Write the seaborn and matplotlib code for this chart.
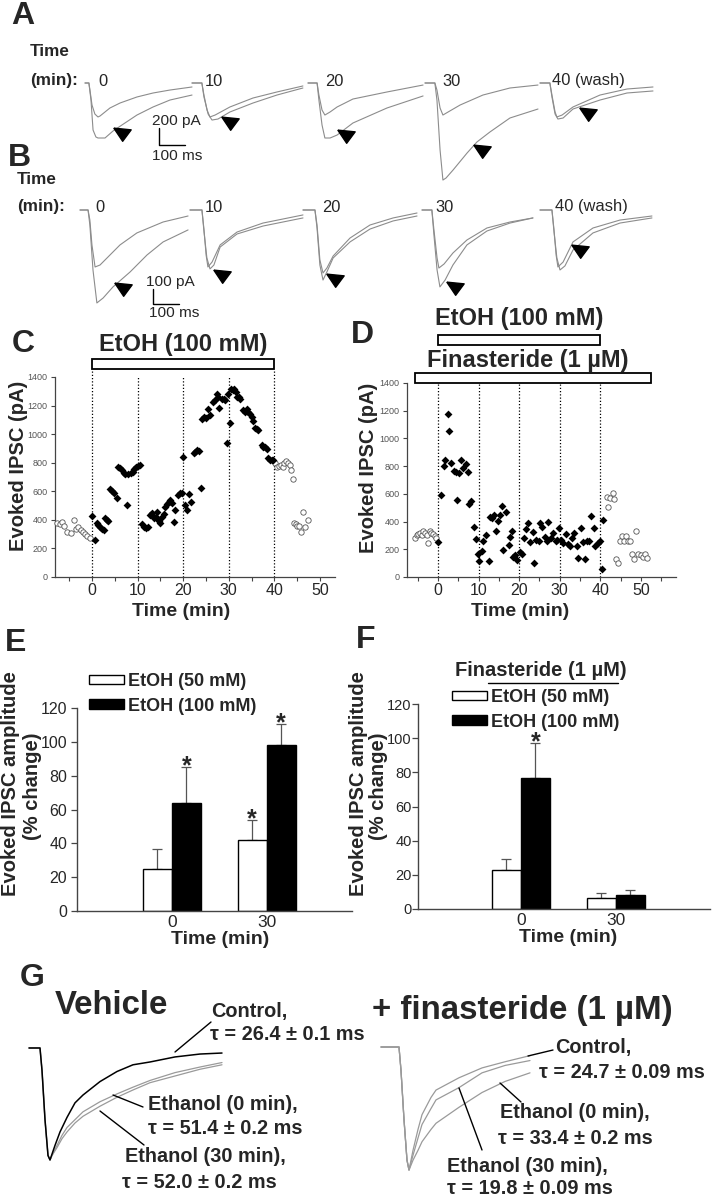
import numpy as np
import pandas as pd
import matplotlib
matplotlib.use("Agg")
import matplotlib.pyplot as plt
import seaborn as sns
from matplotlib import font_manager
from matplotlib.patches import Rectangle, Patch
from matplotlib.lines import Line2D

# ======================= DATA =======================
# Panels A / B : example traces, time (ms from sweep start) and current (pA)
SWEEP_LABELS = ["0", "10", "20", "30", "40 (wash)"]

A_T_CTRL = [[0, 15, 19, 27, 38, 50, 58, 77, 96, 135, 200, 262, 327, 412],
            [0, 38, 46, 58, 69, 89, 146, 235, 327, 427],
            [0, 35, 42, 54, 65, 85, 112, 173, 304, 443],
            [0, 38, 46, 58, 69, 89, 135, 223, 327, 435],
            [0, 38, 46, 58, 65, 85, 127, 231, 335, 435]]
A_I_CTRL = [[0, 0, -83, -260, -366, -401, -389, -342, -295, -236, -165, -118, -83, -47],
            [0, 0, -142, -319, -401, -378, -283, -177, -106, -35],
            [0, 0, -142, -319, -378, -342, -283, -189, -106, -24],
            [0, 0, -83, -295, -378, -342, -260, -142, -59, -24],
            [0, 0, -142, -342, -401, -378, -283, -142, -71, -47]]
A_T_ETOH = [[0, 15, 23, 31, 42, 50, 77, 108, 142, 200, 262, 327, 412],
            [0, 38, 46, 62, 77, 100, 146, 235, 327, 427],
            [0, 35, 42, 54, 65, 85, 112, 173, 304, 443],
            [0, 38, 46, 58, 69, 81, 108, 162, 200, 250, 327, 435],
            [0, 38, 46, 58, 69, 89, 127, 231, 335, 435]]
A_I_ETOH = [[0, 0, -201, -555, -637, -649, -649, -566, -496, -378, -283, -201, -142],
            [0, 0, -165, -366, -437, -425, -342, -236, -142, -59],
            [0, 0, -201, -496, -649, -649, -614, -472, -295, -153],
            [0, 0, -201, -791, -1145, -1121, -1027, -826, -696, -578, -413, -307],
            [0, 0, -165, -366, -425, -413, -307, -201, -118, -94]]
A_ARROW_T = [142, 146, 146, 219, 185]
A_ARROW_I = [-590, -460, -614, -791, -354]
A_SCALE_PA, A_SCALE_MS = 200, 100

B_T_CTRL = [[0, 31, 38, 46, 58, 77, 104, 154, 219, 320, 416],
            [0, 46, 54, 62, 69, 85, 116, 181, 281, 435],
            [0, 46, 54, 65, 77, 92, 116, 181, 258, 347, 439],
            [0, 38, 46, 58, 65, 85, 119, 173, 250, 339, 427],
            [0, 46, 54, 62, 69, 89, 127, 204, 308, 431]]
B_I_CTRL = [[0, 0, -67, -233, -380, -367, -320, -233, -153, -80, -40],
            [0, 0, -133, -300, -380, -347, -233, -147, -87, -33],
            [0, 0, -100, -333, -420, -387, -307, -187, -100, -53, -20],
            [0, 0, -133, -320, -387, -360, -287, -200, -120, -80, -53],
            [0, 0, -133, -300, -380, -347, -213, -120, -67, -40]]
B_T_ETOH = [[0, 31, 38, 50, 65, 89, 127, 193, 258, 320, 416],
            [0, 46, 54, 65, 77, 92, 116, 181, 281, 435],
            [0, 46, 54, 65, 77, 92, 116, 181, 258, 347, 439],
            [0, 38, 46, 58, 69, 89, 119, 173, 250, 339, 427],
            [0, 46, 54, 65, 77, 96, 127, 204, 308, 431]]
B_I_ETOH = [[0, 0, -100, -400, -620, -587, -513, -413, -300, -213, -133],
            [0, 0, -147, -320, -393, -367, -247, -160, -107, -53],
            [0, 0, -120, -367, -467, -413, -320, -213, -127, -73, -40],
            [0, 0, -167, -400, -513, -467, -367, -233, -140, -87, -53],
            [0, 0, -147, -320, -400, -373, -267, -153, -87, -53]]
B_ARROW_T = [166, 123, 123, 127, 154]
B_ARROW_I = [-520, -433, -460, -513, -267]
B_SCALE_PA, B_SCALE_MS = 100, 100

# Panel C : evoked IPSC (pA) vs time (min)
C_PRE_T = [-7.6, -7.1, -6.6, -6.1, -5.4, -4.6, -4.0, -3.5, -3.0, -2.5, -2.0, -1.5, -1.0, -0.5]
C_PRE_I = [377, 370, 384, 360, 312, 310, 400, 335, 350, 330, 315, 300, 290, 275]
C_ETOH_T = [0.0, 0.6, 1.1, 1.4, 1.8, 2.2, 2.6, 2.9, 3.3, 3.6, 4.0, 4.4, 4.8, 5.5, 5.8, 6.2,
            6.6, 7.0, 7.3, 7.6, 8.0, 8.5, 8.9, 9.3, 9.7, 10.1, 10.5, 11.0, 11.4, 11.9, 12.3,
            12.8, 13.2, 13.6, 14.0, 14.3, 14.6, 15.0, 15.3, 15.7, 16.0, 16.4, 16.8, 17.1,
            17.5, 17.9, 18.3, 18.9, 19.3, 19.7, 20.0, 20.3, 20.8, 21.3, 21.7, 22.3, 22.7,
            23.1, 23.4, 24.0, 24.2, 24.6, 25.0, 25.5, 25.9, 26.6, 27.0, 27.4, 27.7, 27.9,
            28.5, 28.9, 29.2, 29.6, 29.9, 30.3, 30.6, 30.9, 31.2, 31.5, 31.8, 32.2, 32.5,
            33.2, 33.6, 33.9, 34.3, 34.7, 35.1, 35.4, 35.8, 36.2, 36.5, 37.2, 37.6, 37.9,
            38.3, 38.7, 39.1, 39.5, 39.8]
C_ETOH_I = [430, 260, 380, 365, 353, 337, 330, 410, 400, 393, 614, 605, 586, 550, 772, 760,
            749, 730, 721, 505, 721, 726, 737, 753, 767, 777, 786, 370, 353, 342, 353,
            435, 451, 412, 423, 458, 395, 381, 423, 442, 493, 512, 528, 540,
            516, 388, 470, 574, 586, 591, 842, 505, 470, 579, 528, 865, 877,
            888, 884, 621, 1109, 1121, 1116, 1179, 1133, 1226, 1237, 1284, 1260, 1186,
            1249, 1249, 1237, 940, 1284, 1079, 1319, 1307, 1319, 1295, 1260, 1260, 1249,
            1167, 1156, 1179, 1156, 1144, 1121, 1093, 1040, 1033, 1028, 923, 912, 907,
            895, 830, 819, 819, 819]
C_WASH_T = [40.2, 40.6, 41.0, 41.4, 41.8, 42.2, 42.6, 43.0, 43.4, 43.7, 44.1,
            44.3, 44.7, 45.0, 45.5, 45.8, 46.3, 46.8, 47.4]
C_WASH_I = [795, 772, 777, 784, 772, 800, 814, 800, 784, 749, 684,
            377, 370, 360, 360, 312, 458, 350, 400]
C_MARKS = [0, 10, 20, 30, 40]
C_ETOH_ON, C_ETOH_OFF = 0, 40

# Panel D
D_PRE_T = [-5.6, -5.2, -4.8, -4.4, -4.0, -3.6, -3.2, -2.8, -2.4, -2.0, -1.6, -1.2, -0.8, -0.4]
D_PRE_I = [281, 300, 310, 317, 305, 329, 320, 300, 245, 329, 315, 310, 293, 280]
D_ETOH_T = [0.15, 0.7, 1.4, 1.8, 2.4, 2.8, 3.3, 3.9, 4.4, 4.8, 5.3, 5.7, 6.3, 6.9, 7.3, 7.7,
            8.2, 8.8, 9.3, 9.8, 10.2, 10.8, 11.2, 11.8, 12.5, 12.9, 13.3, 13.9, 14.3, 14.7,
            15.2, 15.7, 16.1, 16.7, 17.4, 17.8, 18.2, 18.6, 19.0, 19.4, 20.1, 20.7, 21.1,
            21.7, 22.1, 22.7, 23.3, 23.7, 24.2, 24.8, 25.2, 25.7, 26.4, 26.8, 27.2, 27.9,
            28.4, 29.0, 29.4, 29.9, 30.3, 30.9, 31.5, 31.9, 32.5, 33.1, 33.5, 34.2, 34.6,
            35.2, 35.7, 36.1, 36.6, 37.2, 37.7, 38.3, 38.7, 39.3, 39.8, 40.3, 40.7]
D_ETOH_I = [253, 594, 803, 842, 1178, 1051, 822, 762, 755, 558, 750, 846, 786, 817, 755, 527,
            546, 358, 277, 166, 113, 190, 257, 305, 113, 430, 425, 450, 334, 406,
            445, 510, 197, 467, 233, 289, 334, 142, 156, 125, 180, 168, 281,
            349, 390, 250, 325, 101, 265, 257, 390, 358, 289, 257, 395, 281,
            317, 257, 265, 353, 265, 245, 313, 241, 226, 281, 317, 221, 137,
            353, 253, 130, 262, 262, 438, 353, 226, 245, 262, 58, 414]
D_WASH_T = [41.6, 41.8, 42.4, 43.0, 43.4, 43.9, 44.4, 44.7, 45.2, 45.8, 46.2, 46.7, 47.3,
            47.7, 48.3, 48.8, 49.3, 49.9, 50.6, 51.0, 51.4]
D_WASH_I = [577, 503, 570, 606, 565, 130, 101, 257, 293, 257, 293, 257, 257,
            168, 130, 329, 168, 156, 142, 168, 137]
D_MARKS = [0, 10, 20, 30, 40]
D_ETOH_ON, D_ETOH_OFF = 0, 40
D_FIN_ON, D_FIN_OFF = -5.6, 52.4

# Panels E / F : % change of evoked IPSC amplitude (mean, SEM)
BAR_TIMES = ["0", "30"]
CONC_LABELS = ["EtOH (50 mM)", "EtOH (100 mM)"]
E_50_MEAN, E_50_SEM, E_50_SIG = [25, 42], [11.5, 12], [False, True]
E_100_MEAN, E_100_SEM, E_100_SIG = [64, 98], [21, 12.5], [True, True]
F_50_MEAN, F_50_SEM, F_50_SIG = [23, 6.7], [6.5, 2.9], [False, False]
F_100_MEAN, F_100_SEM, F_100_SIG = [76.5, 8.4], [20.7, 2.6], [True, False]

# Panel G : normalised average IPSCs (time in ms, amplitude / peak)
G_VEH_T = [0, 22, 26, 32, 38, 42, 52, 62, 76, 92, 108, 142, 176, 208, 242, 292, 342, 386]
G_VEH_CTRL = [0, 0, -0.2, -0.64, -0.96, -1.0, -0.87, -0.75, -0.62, -0.49, -0.42, -0.30,
              -0.21, -0.15, -0.125, -0.08, -0.054, -0.045]
G_VEH_T2 = [0, 22, 26, 32, 38, 42, 46, 56, 66, 76, 92, 108, 142, 176, 208, 242, 292, 342, 386]
G_VEH_E0 = [0, 0, -0.2, -0.64, -0.96, -1.0, -0.96, -0.87, -0.78, -0.71, -0.64, -0.57, -0.48,
            -0.41, -0.35, -0.29, -0.22, -0.17, -0.13]
G_VEH_E30 = [0, 0, -0.2, -0.64, -0.96, -1.0, -0.96, -0.89, -0.81, -0.75, -0.67, -0.61, -0.52,
             -0.44, -0.375, -0.31, -0.25, -0.19, -0.15]
G_FIN_T = [0, 36, 40, 46, 52, 56, 64, 74, 82, 100, 110, 156, 202, 248, 298]
G_FIN_CTRL = [0, 0, -0.19, -0.59, -0.92, -1.0, -0.84, -0.67, -0.55, -0.41, -0.35, -0.25,
              -0.17, -0.12, -0.07]
G_FIN_E30 = [0, 0, -0.19, -0.59, -0.92, -1.0, -0.88, -0.74, -0.63, -0.50, -0.43, -0.33,
             -0.21, -0.15, -0.11]
G_FIN_E0 = [0, 0, -0.19, -0.59, -0.92, -1.0, -0.92, -0.84, -0.77, -0.67, -0.62, -0.49,
            -0.37, -0.28, -0.21]
G_VEH_TAU = ["26.4 ± 0.1", "51.4 ± 0.2", "52.0 ± 0.2"]
G_FIN_TAU = ["24.7 ± 0.09", "33.4 ± 0.2", "19.8 ± 0.09"]

# ======================= STYLE / HELPERS =======================
sns.set_theme(style="ticks")
SANS = ["Liberation Sans", "DejaVu Sans"]
plt.rcParams["font.family"] = SANS
plt.rcParams["axes.unicode_minus"] = False

_names = {f.name for f in font_manager.fontManager.ttflist}
HAS_NARROW = "Liberation Sans Narrow" in _names
NARROW = (["Liberation Sans Narrow"] + SANS) if HAS_NARROW else SANS
NK = 1.0 if HAS_NARROW else 0.82

W, H = 718, 1200
fig = plt.figure(figsize=(W / 100, H / 100), dpi=100)
fig.patch.set_facecolor("white")


def add_ax(x0, y0, x1, y1):
    return fig.add_axes([x0 / W, 1 - y1 / H, (x1 - x0) / W, (y1 - y0) / H])


def ftext(x, y, s, size, bold=False, ha="left", va="center", family=None, rot=0, **kw):
    return fig.text(x / W, 1 - y / H, s, fontsize=size,
                    fontweight="bold" if bold else "normal", ha=ha, va=va,
                    family=family if family is not None else SANS, rotation=rot, **kw)


def fline(pts, **kw):
    xs = [p[0] / W for p in pts]
    ys = [1 - p[1] / H for p in pts]
    fig.add_artist(Line2D(xs, ys, transform=fig.transFigure, **kw))


TRACE_GRAY = "#8c8c8c"
ARROW = [(-1.0, 0.62), (1.0, 0.42), (0.02, -0.9), (-1.0, 0.62)]
MS_PX = 3.85
LETTER = 23


def sweeps(starts, top, bot, base, pa_px, Tc, Ic, Te, Ie, at, ai):
    out = []
    for i, x0 in enumerate(starts):
        ax = add_ax(x0 - 4, top, x0 + 124, bot)
        ax.set_xlim(-4 * MS_PX, 124 * MS_PX)
        ax.set_ylim(-(bot - base) * pa_px, (base - top) * pa_px)
        ax.axis("off")
        sns.lineplot(x=Tc[i], y=Ic[i], ax=ax, color=TRACE_GRAY, lw=0.8, sort=False, estimator=None)
        sns.lineplot(x=Te[i], y=Ie[i], ax=ax, color=TRACE_GRAY, lw=0.8, sort=False, estimator=None)
        ax.plot([at[i]], [ai[i]], ls="none", marker=ARROW, ms=12.5, color="black",
                mec="black", clip_on=False)
        out.append(ax)
    return out


# ======================= PANEL A =======================
ftext(11, 16, "A", LETTER, bold=True)
ftext(30, 52, "Time", 15 * NK, bold=True, family=NARROW)
ftext(30, 80, "(min):", 15 * NK, bold=True, family=NARROW)
axA = sweeps([85, 192, 308, 425, 540], 72, 192, 83, 11.8,
             A_T_CTRL, A_I_CTRL, A_T_ETOH, A_I_ETOH, A_ARROW_T, A_ARROW_I)
for x, lab in zip([98, 205, 325, 442, 552], SWEEP_LABELS):
    ftext(x, 81, lab, 14.5 * NK, family=NARROW)
x0s, y0s = 285, -531
axA[0].plot([x0s, x0s, x0s + A_SCALE_MS], [y0s, y0s - A_SCALE_PA, y0s - A_SCALE_PA],
            color="black", lw=1.0, clip_on=False)
ftext(152, 121, f"{A_SCALE_PA} pA", 13.5 * NK, family=NARROW)
ftext(152, 156, f"{A_SCALE_MS} ms", 13.5 * NK, family=NARROW)

# ======================= PANEL B =======================
ftext(8, 158, "B", LETTER, bold=True)
ftext(17, 180, "Time", 15 * NK, bold=True, family=NARROW)
ftext(17, 207, "(min):", 15 * NK, bold=True, family=NARROW)
axB = sweeps([80, 190, 303, 422, 540], 198, 318, 210, 6.67,
             B_T_CTRL, B_I_CTRL, B_T_ETOH, B_I_ETOH, B_ARROW_T, B_ARROW_I)
for x, lab in zip([95, 205, 322, 435, 555], SWEEP_LABELS):
    ftext(x, 207, lab, 14.5 * NK, family=NARROW)
x0s, y0s = 281, -527
axB[0].plot([x0s, x0s, x0s + B_SCALE_MS], [y0s, y0s - B_SCALE_PA, y0s - B_SCALE_PA],
            color="black", lw=1.0, clip_on=False)
ftext(146, 282, f"{B_SCALE_PA} pA", 13.5 * NK, family=NARROW)
ftext(149, 313, f"{B_SCALE_MS} ms", 13.5 * NK, family=NARROW)


# ======================= PANELS C / D =======================
def style_time_ax(ax, xlim, xmax_tick):
    ax.set_xlim(*xlim)
    ax.set_ylim(0, 1400)
    ticks = list(range(-5, xmax_tick + 1, 5))
    ax.set_xticks(ticks)
    ax.set_xticklabels([str(t) if (t % 10 == 0 and t >= 0) else "" for t in ticks], fontsize=11.5)
    yt = list(range(0, 1401, 200))
    ax.set_yticks(yt)
    ax.set_yticklabels([str(v) for v in yt], fontsize=6.5, color="#555555")
    ax.tick_params(axis="both", direction="out", length=3, width=0.8, color="#444444")
    ax.tick_params(axis="x", pad=1)
    ax.tick_params(axis="y", pad=2.5)
    sns.despine(ax=ax)
    for s in ["left", "bottom"]:
        ax.spines[s].set_color("#444444")
        ax.spines[s].set_linewidth(0.9)
    ax.set_xlabel("")
    ax.set_ylabel("")
    ax.patch.set_alpha(0)


def scatter_series(ax, pre_t, pre_i, on_t, on_i, post_t, post_i):
    sns.scatterplot(x=pre_t + post_t, y=pre_i + post_i, ax=ax, marker="o", s=15,
                    color="white", edgecolor="#555555", linewidth=0.6, clip_on=False, zorder=3)
    sns.scatterplot(x=on_t, y=on_i, ax=ax, marker="D", s=16, color="black",
                    linewidth=0, clip_on=False, zorder=3)


axC = add_ax(55, 377, 335, 577)
scatter_series(axC, C_PRE_T, C_PRE_I, C_ETOH_T, C_ETOH_I, C_WASH_T, C_WASH_I)
style_time_ax(axC, (-8.1, 53.3), 50)
for t in C_MARKS:
    top = 1456 if t in (C_ETOH_ON, C_ETOH_OFF) else 1400
    axC.plot([t, t], [0, top], ls=(0, (1, 1.6)), color="black", lw=0.9, clip_on=False, zorder=1)
axC.add_patch(Rectangle((C_ETOH_ON, 1456), C_ETOH_OFF - C_ETOH_ON, 70, facecolor="white",
                        edgecolor="black", lw=1.3, clip_on=False))
axC.text((C_ETOH_ON + C_ETOH_OFF) / 2, 1624, "EtOH (100 mM)", ha="center", va="center",
         fontsize=17, fontweight="bold")
ftext(12, 344, "C", LETTER, bold=True)
ftext(19, 466, "Evoked IPSC (pA)", 14.5, bold=True, ha="center", rot=90)
ftext(181, 611, "Time (min)", 14, bold=True, ha="center")

axD = add_ax(407, 383, 676, 577)
scatter_series(axD, D_PRE_T, D_PRE_I, D_ETOH_T, D_ETOH_I, D_WASH_T, D_WASH_I)
style_time_ax(axD, (-7.6, 58.6), 55)
for t in D_MARKS:
    axD.plot([t, t], [0, 1400], ls=(0, (1, 1.6)), color="black", lw=0.9, clip_on=False, zorder=1)
axD.add_patch(Rectangle((D_ETOH_ON, 1674), D_ETOH_OFF - D_ETOH_ON, 72, facecolor="white",
                        edgecolor="black", lw=1.3, clip_on=False))
axD.add_patch(Rectangle((D_FIN_ON, 1400), D_FIN_OFF - D_FIN_ON, 72, facecolor="white",
                        edgecolor="black", lw=1.3, clip_on=False))
axD.text((D_ETOH_ON + D_ETOH_OFF) / 2, 1869, "EtOH (100 mM)", ha="center", va="center",
         fontsize=17, fontweight="bold")
axD.text(22.2, 1565, "Finasteride (1 µM)", ha="center", va="center",
         fontsize=17, fontweight="bold")
ftext(351, 335, "D", LETTER, bold=True)
ftext(368, 468, "Evoked IPSC (pA)", 14.5, bold=True, ha="center", rot=90)
ftext(520, 611, "Time (min)", 14, bold=True, ha="center")


# ======================= PANELS E / F =======================
def bar_panel(ax, m50, s50, g50, m100, s100, g100, xlim, ypad, ysize):
    pos = [i + 1 for i in range(len(BAR_TIMES))]
    df = pd.DataFrame({"pos": pos + pos,
                       "conc": [CONC_LABELS[0]] * len(pos) + [CONC_LABELS[1]] * len(pos),
                       "val": list(m50) + list(m100)})
    sns.barplot(data=df, x="pos", y="val", hue="conc", hue_order=CONC_LABELS,
                palette={CONC_LABELS[0]: "white", CONC_LABELS[1]: "black"},
                native_scale=True, width=0.61, errorbar=None, edgecolor="black",
                linewidth=1.0, legend=False, ax=ax, zorder=2)
    bars = sorted(ax.patches, key=lambda p: p.get_x())
    means, sems, sigs = [], [], []
    for i in range(len(pos)):
        means += [m50[i], m100[i]]
        sems += [s50[i], s100[i]]
        sigs += [g50[i], g100[i]]
    xs = [p.get_x() + p.get_width() / 2 for p in bars]
    ax.errorbar(xs, means, yerr=[np.zeros(len(sems)), sems], fmt="none", ecolor="#555555",
                elinewidth=0.9, capsize=3.5, capthick=0.9, zorder=1)
    for x, m, s, g in zip(xs, means, sems, sigs):
        if g:
            ax.text(x, m + s + 0.3, "*", ha="center", va="center", fontsize=18,
                    fontweight="bold")
    ax.set_xlim(*xlim)
    ax.set_ylim(0, 120)
    ax.set_yticks(range(0, 121, 20))
    ax.set_yticklabels([str(v) for v in range(0, 121, 20)], fontsize=ysize)
    ax.set_xticks(pos)
    ax.set_xticklabels(BAR_TIMES, fontsize=12.5)
    ax.tick_params(axis="x", length=0, pad=3)
    ax.tick_params(axis="y", length=4, width=0.9, direction="out", pad=ypad, color="#444444")
    ax.set_xlabel("")
    ax.set_ylabel("")
    sns.despine(ax=ax)
    for s in ["left", "bottom"]:
        ax.spines[s].set_color("#444444")
        ax.spines[s].set_linewidth(1.0)
    ax.patch.set_alpha(0)


def bar_legend(ax, x, y):
    handles = [Patch(facecolor="white", edgecolor="black", lw=1.0, label=CONC_LABELS[0]),
               Patch(facecolor="black", edgecolor="black", lw=1.0, label=CONC_LABELS[1])]
    ax.legend(handles=handles, loc="upper left", bbox_to_anchor=(x / W, 1 - y / H),
              bbox_transform=fig.transFigure, frameon=False,
              prop={"size": 13, "weight": "bold", "family": SANS},
              handlelength=1.95, handleheight=0.45, handletextpad=0.2,
              labelspacing=0.42, borderpad=0, borderaxespad=0)


axE = add_ax(77, 708, 352, 911)
bar_panel(axE, E_50_MEAN, E_50_SEM, E_50_SIG, E_100_MEAN, E_100_SEM, E_100_SIG,
          (0, 2.9), 3, 11.5)
bar_legend(axE, 89, 673)
ftext(5, 643, "E", LETTER, bold=True)
ftext(11, 784, "Evoked IPSC amplitude", 14.5, bold=True, ha="center", rot=90)
ftext(32, 786, "(% change)", 14.5, bold=True, ha="center", rot=90)
ftext(220, 940, "Time (min)", 14, bold=True, ha="center")

axF = add_ax(418, 704, 710, 909)
bar_panel(axF, F_50_MEAN, F_50_SEM, F_50_SIG, F_100_MEAN, F_100_SEM, F_100_SIG,
          (-0.084, 2.99), 0.5, 10.5)
bar_legend(axF, 452, 689)
ftext(541, 670, "Finasteride (1 µM)", 14.5, bold=True, ha="center")
fline([(488, 683), (618, 683)], color="black", lw=1.0)
ftext(356, 640, "F", LETTER, bold=True)
ftext(358, 784, "Evoked IPSC amplitude", 14.5, bold=True, ha="center", rot=90)
ftext(378, 786, "(% change)", 14.5, bold=True, ha="center", rot=90)
ftext(568, 937, "Time (min)", 14, bold=True, ha="center")

# ======================= PANEL G =======================
ftext(20, 978, "G", LETTER, bold=True)
ftext(55, 1006, "Vehicle", 29 * NK, bold=True, family=NARROW)
ftext(372, 1010, "+ finasteride (1 µM)", 29 * NK, bold=True, family=NARROW)

axG1 = add_ax(21, 1035, 231, 1180)
axG1.set_xlim(-16, 404)
axG1.set_ylim(-1.179, 0.116)
axG1.axis("off")
sns.lineplot(x=G_VEH_T2, y=G_VEH_E30, ax=axG1, color="#9a9a9a", lw=0.9, sort=False, estimator=None)
sns.lineplot(x=G_VEH_T2, y=G_VEH_E0, ax=axG1, color="#9a9a9a", lw=0.9, sort=False, estimator=None)
sns.lineplot(x=G_VEH_T, y=G_VEH_CTRL, ax=axG1, color="black", lw=1.1, sort=False, estimator=None)

axG2 = add_ax(373, 1035, 540, 1180)
axG2.set_xlim(-16, 318)
axG2.set_ylim(-1.081, 0.0976)
axG2.axis("off")
for ys in (G_FIN_E0, G_FIN_E30, G_FIN_CTRL):
    sns.lineplot(x=G_FIN_T, y=ys, ax=axG2, color="#9a9a9a", lw=0.9, sort=False, estimator=None)

GS = 17.5 * NK
ftext(211, 1011, "Control,", GS, bold=True, family=NARROW)
ftext(210, 1035, f"τ = {G_VEH_TAU[0]} ms", GS, bold=True, family=NARROW)
ftext(148, 1105, "Ethanol (0 min),", GS, bold=True, family=NARROW)
ftext(148, 1128, f"τ = {G_VEH_TAU[1]} ms", GS, bold=True, family=NARROW)
ftext(125, 1157, "Ethanol (30 min),", GS, bold=True, family=NARROW)
ftext(122, 1182, f"τ = {G_VEH_TAU[2]} ms", GS, bold=True, family=NARROW)
fline([(175, 1052), (211, 1022)], color="black", lw=1.0)
fline([(113, 1095), (143, 1107)], color="black", lw=1.0)
fline([(100, 1111), (144, 1145)], color="black", lw=1.0)

ftext(555, 1048, "Control,", GS, bold=True, family=NARROW)
ftext(539, 1072, f"τ = {G_FIN_TAU[0]} ms", GS, bold=True, family=NARROW)
ftext(500, 1113, "Ethanol (0 min),", GS, bold=True, family=NARROW)
ftext(498, 1138, f"τ = {G_FIN_TAU[1]} ms", GS, bold=True, family=NARROW)
ftext(447, 1166, "Ethanol (30 min),", GS, bold=True, family=NARROW)
ftext(447, 1188, f"τ = {G_FIN_TAU[2]} ms", GS, bold=True, family=NARROW)
fline([(528, 1056), (553, 1050)], color="black", lw=1.0)
fline([(500, 1083), (521, 1102)], color="black", lw=1.0)
fline([(459, 1088), (482, 1150)], color="black", lw=1.0)

fig.savefig("out.png", dpi=100, facecolor="white")
